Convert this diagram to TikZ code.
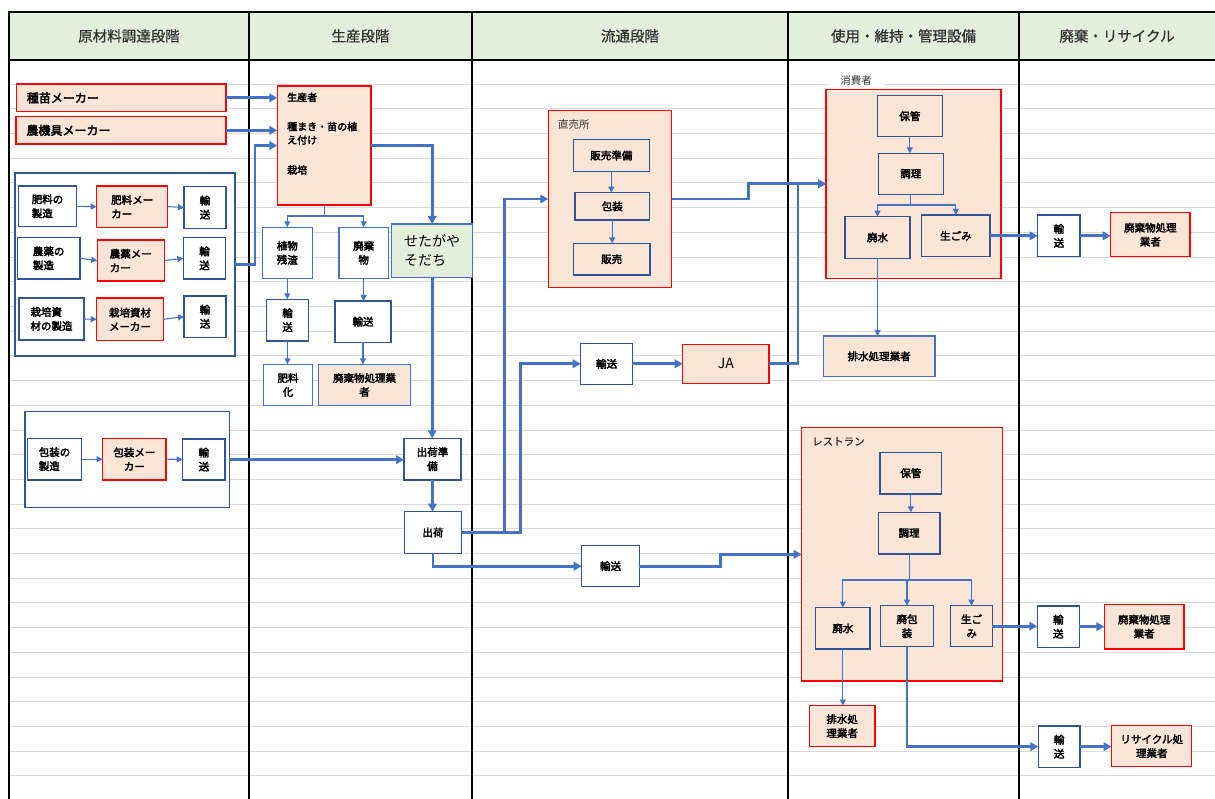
\documentclass[tikz,border=0pt]{standalone}
\usepackage{fontspec}
\setmainfont{Noto Sans CJK JP}
\newfontfamily\bxfont{Noto Sans CJK JP}[FakeBold=3]
\newfontfamily\hdfont{Noto Sans CJK JP}[FakeBold=0.8]
\usetikzlibrary{arrows.meta}
\definecolor{peach}{HTML}{FBE5D6}
\definecolor{hgreen}{HTML}{E2EFDA}
\definecolor{dblue}{HTML}{2F5597}
\definecolor{lblue}{HTML}{4472C4}
\definecolor{gridg}{HTML}{D9D9D9}
\definecolor{hdtext}{HTML}{333333}
\newcommand\bx[7]{\node[#1,minimum width={(#5-#3)*1pt},minimum height={(#6-#4)*1pt}] (#2) at ({(#3+#5)/2},{(#4+#6)/2}) {#7};}
\tikzset{
 base/.style={rectangle,inner sep=0pt,outer sep=0pt,line width=1.1pt,font=\bxfont\fontsize{10.5}{14}\selectfont,align=center,text=black},
 prbox/.style={base,draw=red,fill=peach,line width=1.5pt},
 wbbox/.style={base,draw=dblue,fill=white},
 wlbox/.style={base,draw=lblue,fill=white},
 pbbox/.style={base,draw=lblue,fill=peach},
 pdbox/.style={base,draw=dblue,fill=peach},
 gbox/.style={base,draw=lblue,fill=hgreen},
 grpbox/.style={base,draw=dblue,fill=white},
 fat/.style={draw=lblue,line width=2.7pt,-{Triangle[length=8pt,width=8.5pt]}},
 thin/.style={draw=lblue,line width=1.1pt,-{Triangle[length=6pt,width=6pt]}},
 hdr/.style={font=\hdfont\fontsize{14.5}{16}\selectfont,text=hdtext},
 lbl/.style={font=\fontsize{10.5}{12}\selectfont,text=hdtext,inner sep=0pt},
}
\begin{document}
\begin{tikzpicture}[x=1pt,y=-1pt]
\useasboundingbox (0,0) rectangle (1215,799);
% grid
\foreach \k in {1,...,29} {\draw[gridg,line width=1pt] (9,{59.5+24.7*\k}) -- (1215,{59.5+24.7*\k});}
% header
\fill[hgreen] (9,12) rectangle (1215,60);
\draw[black,line width=1.2pt] (1215,12) -- (9,12) -- (9,799);
\draw[black,line width=1.2pt] (9,60) -- (1215,60);
\foreach \xx in {249,472,788,1019} {\draw[black,line width=1.2pt] (\xx,12) -- (\xx,799);}
\node[hdr] (h1) at (129,36) {原材料調達段階};
\node[hdr] (h2) at (360.5,36) {生産段階};
\node[hdr] (h3) at (630,36) {流通段階};
\node[hdr] (h4) at (903.5,36) {使用・維持・管理設備};
\node[hdr] (h5) at (1117,36) {廃棄・リサイクル};

% column 1
\bx{prbox,font=\bxfont\fontsize{12}{14}\selectfont,text width=189pt,align=left}{seed}{16.7}{84}{226}{111.7}{種苗メーカー}
\bx{prbox,font=\bxfont\fontsize{12}{14}\selectfont,text width=189pt,align=left}{farm}{16}{116.7}{226}{144}{農機具メーカー}
\bx{grpbox}{grp1}{15}{173}{235}{356}{}
\bx{wbbox,align=left}{f1}{18.3}{186}{76.7}{226.7}{肥料の\\製造}
\bx{prbox,align=left}{f2}{96.7}{186}{167.7}{227.3}{肥料メー\\カー}
\bx{wbbox}{f3}{184}{186.7}{226}{228.3}{輸\\送}
\bx{wbbox,align=left}{n1}{17.3}{237.7}{80}{279}{農薬の\\製造}
\bx{prbox,align=left}{n2}{97.3}{240}{164.3}{281}{農薬メー\\カー}
\bx{wbbox}{n3}{183.3}{237.7}{225.7}{279}{輸\\送}
\bx{wbbox,align=left}{s1}{19}{298}{84}{340}{栽培資\\材の製造}
\bx{prbox,align=left}{s2}{96.7}{298}{163.3}{340.7}{栽培資材\\メーカー}
\bx{wbbox}{s3}{184}{296}{226}{337.3}{輸\\送}
\bx{grpbox}{grp2}{25}{411.7}{229.3}{507.7}{}
\bx{wbbox,align=left}{p1}{27.3}{438.3}{81.7}{480}{包装の\\製造}
\bx{prbox}{p2}{102.7}{438.3}{166}{480}{包装メー\\カー}
\bx{wbbox}{p3}{182.7}{439}{225}{480}{輸\\送}
\draw[thin] (f1.east) -- (f2.west);
\draw[thin] (f2.east) -- (f3.west);
\draw[thin] (n1.east) -- (n2.west);
\draw[thin] (n2.east) -- (n3.west);
\draw[thin] (s1.east) -- (s2.west);
\draw[thin] (s2.east) -- (s3.west);
\draw[thin] (p1.east) -- (p2.west);
\draw[thin] (p2.east) -- (p3.west);

% column 2
\bx{prbox}{prod}{277.3}{86}{371}{205}{}
\node[anchor=north west,inner sep=0pt,align=left,font=\bxfont\fontsize{10}{13.4}\selectfont] (prodtxt) at (287,92.5) {生産者\\[15.9pt]種まき・苗の植\\え付け\\[16.6pt]栽培};
\bx{wlbox}{zan}{262.3}{227.3}{312.3}{278.3}{植物\\残渣}
\bx{wlbox}{hai}{339}{227.3}{388.3}{278.3}{廃棄\\物}
\bx{gbox,font=\fontsize{14}{19}\selectfont,align=left}{seta}{391.7}{224}{472.7}{277.3}{せたがや\\そだち}
\bx{wbbox}{yu1}{266.7}{299.3}{308.3}{341}{輸\\送}
\bx{wbbox}{yu2}{335}{301}{391}{342.3}{輸送}
\bx{wlbox}{hiryo}{263.3}{364.3}{312.7}{405.7}{肥料\\化}
\bx{pbbox}{hproc}{318.3}{364.3}{410.7}{405.7}{廃棄物処理業\\者}
\bx{wbbox}{junbi}{404}{438.3}{461}{480}{出荷準\\備}
\bx{wbbox}{shukka}{404.3}{511.7}{461.7}{553.3}{出荷}

\draw[fat] (seed.east) -- (prod.west |- seed.east);
\draw[fat] (farm.east) -- (prod.west |- farm.east);
\draw[fat] (grp1.east) -- ++(20,0) |- (prod.west);
\draw[fat] (prod.east) -| (seta.north);
\draw[thin,-] (prod.south) -- ++(0,11) coordinate (pt);
\draw[thin] (pt) -| (zan.north);
\draw[thin] (pt) -| (hai.north);
\draw[thin] (zan.south) -- (zan.south |- yu1.north);
\draw[thin] (yu1.south) -- (yu1.south |- hiryo.north);
\draw[thin] (hai.south) -- (hai.south |- yu2.north);
\draw[thin] (yu2.south) -- (yu2.south |- hproc.north);
\draw[fat] (seta.south) -- (seta.south |- junbi.north);
\draw[fat] (grp2.east) -- (junbi.west |- grp2.east);
\draw[fat] (junbi.south) -- (junbi.south |- shukka.north);

% column 3
\bx{prbox}{choku}{548.3}{110.7}{671.7}{287.3}{}
\node[lbl,anchor=west] (chokulbl) at (558,125) {直売所};
\bx{pdbox}{hj}{573.3}{139.3}{649.3}{171.7}{販売準備}
\bx{pdbox}{hs}{575}{192.7}{649.3}{220}{包装}
\bx{pdbox}{hb}{573.3}{243.3}{650}{275}{販売}
\bx{wbbox}{yuJA}{580.7}{343.3}{632.3}{384.3}{輸送}
\bx{prbox,font=\fontsize{14}{16}\selectfont}{ja}{682.7}{344.3}{769}{383.3}{JA}
\bx{wbbox}{yu4}{581.7}{545.7}{639.3}{586.7}{輸送}
\draw[thin] (hj.south) -- (hj.south |- hs.north);
\draw[thin] (hs.south) -- (hs.south |- hb.north);
\draw[fat] (shukka.east) -- ++(43,0) |- (choku.west);
\draw[fat] (shukka.east) -- ++(59,0) |- (yuJA.west);
\draw[fat] (shukka.south) |- (yu4.west);
\draw[fat] (yuJA.east) -- (ja.west |- yuJA.east);

% column 4 consumer
\bx{prbox}{cons}{826}{89.3}{1001}{278.3}{}
\node[lbl,fill=white,inner xsep=12pt,inner ysep=1.5pt] (conslbl) at (856,80.5) {消費者};
\bx{pdbox}{ch1}{877.3}{95.7}{942.3}{136.7}{保管}
\bx{pdbox}{ch2}{878.3}{153.3}{943.3}{194.3}{調理}
\bx{pdbox}{ch3}{845}{216.7}{910}{258.3}{廃水}
\bx{pdbox}{ch4}{921.7}{215}{990}{256.7}{生ごみ}
\bx{pbbox}{hsp1}{823.3}{336}{935}{376.7}{排水処理業者}
\draw[thin] (ch1.south) -- (ch1.south |- ch2.north);
\draw[thin,-] (ch2.south) -- ++(0,10.7) coordinate (ct);
\draw[thin] (ct) -| (ch3.north);
\draw[thin] (ct) -| (ch4.north);
\draw[thin] (ch3.south) -- (ch3.south |- hsp1.north);
\draw[fat] (choku.east) -- ++(77,0) |- (cons.west);
\draw[fat] (ja.east) -- ++(29,0) |- (cons.west);

% restaurant
\bx{prbox}{rest}{801.7}{427.7}{1002.3}{681}{}
\node[lbl,anchor=west,font=\hdfont\fontsize{10.5}{12}\selectfont] (restlbl) at (812,441.5) {レストラン};
\bx{pdbox}{r1}{880}{452.3}{941.7}{494}{保管}
\bx{pdbox}{r2}{878.3}{512.3}{940}{554}{調理}
\bx{pdbox}{r3}{815.7}{607.7}{870}{649}{廃水}
\bx{pdbox}{r4}{880.7}{605.7}{933.3}{646.7}{廃包\\装}
\bx{pdbox}{r5}{950.7}{605.7}{992.3}{646.7}{生ご\\み}
\bx{prbox}{hsp2}{809.3}{705.7}{875}{746.7}{排水処\\理業者}
\draw[thin] (r1.south) -- (r1.south |- r2.north);
\draw[thin,-] (r2.south) -- ++(0,26) coordinate (rt);
\draw[thin] (rt) -| (r3.north);
\draw[thin] (rt) -| (r4.north);
\draw[thin] (rt) -| (r5.north);
\draw[thin] (r3.south) -- (r3.south |- hsp2.north);
\draw[fat] (yu4.east) -- ++(81,0) |- (rest.west);

% column 5
\bx{wbbox}{y5}{1037.7}{215}{1080}{256.7}{輸\\送}
\bx{prbox}{wp5}{1110.7}{212.7}{1190}{256.7}{廃棄物処理\\業者}
\bx{wbbox}{y6}{1037.3}{606}{1079.3}{647.3}{輸\\送}
\bx{prbox}{wp6}{1104.3}{604.3}{1184}{649}{廃棄物処理\\業者}
\bx{wbbox}{y7}{1038.3}{726}{1080}{767.3}{輸\\送}
\bx{prbox}{rc}{1111.7}{725.7}{1191.7}{766.7}{リサイクル処\\理業者}
\draw[fat] (ch4.east) -- (y5.west |- ch4.east);
\draw[fat] (y5.east) -- (wp5.west |- y5.east);
\draw[fat] (r5.east) -- (y6.west |- r5.east);
\draw[fat] (y6.east) -- (wp6.west |- y6.east);
\draw[fat] (r4.south) |- (y7.west);
\draw[fat] (y7.east) -- (rc.west |- y7.east);
\end{tikzpicture}
\end{document}
